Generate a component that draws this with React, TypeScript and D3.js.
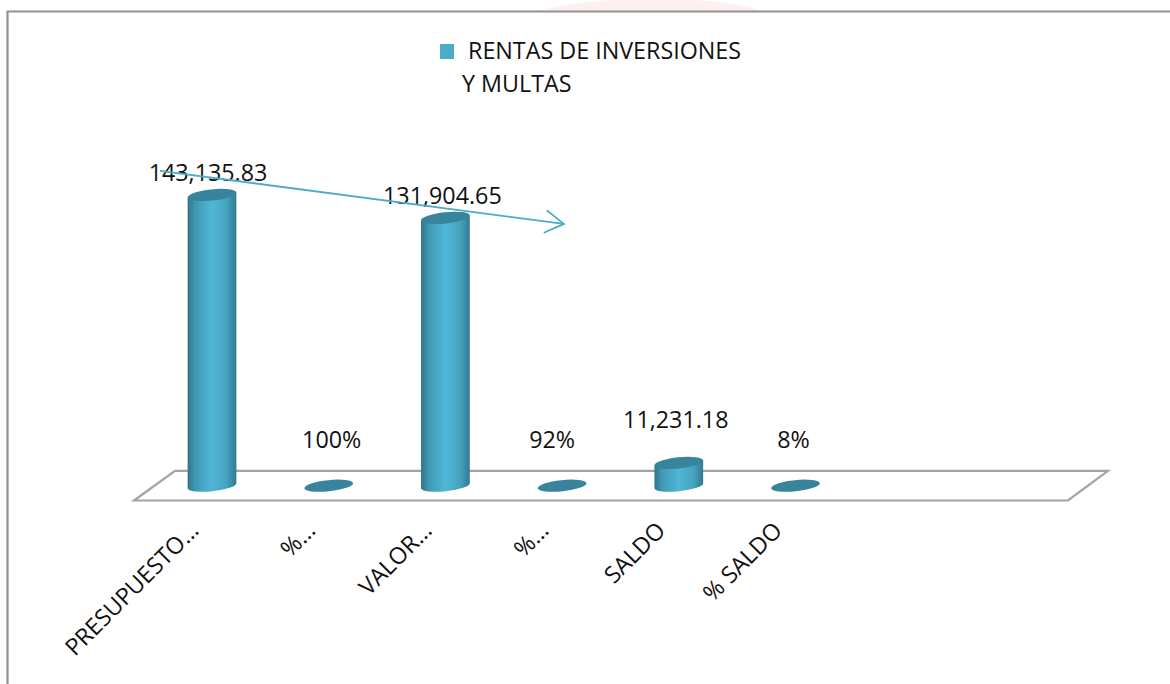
import React from "react";
import * as d3 from "d3";

const categories = ["PRESUPUESTO…", "%…", "VALOR…", "%…", "SALDO", "% SALDO"];
const values = [143135.83, 1, 131904.65, 0.92, 11231.18, 0.08];
const valueLabels = ["143,135.83", "100%", "131,904.65", "92%", "11,231.18", "8%"];
const trendIndex = [-0.446, 3.016];
const trendValue = [155000, 128900];
const legendLines = ["RENTAS DE INVERSIONES", "Y MULTAS"];

const labelDx = [-4, 3, -3, -10, -3, -2];
const W = 1170, H = 684;
const FONT = "'Open Sans', sans-serif";
const FS = 23.3;
const x = d3.scaleLinear().domain([0, 5]).range([212, 795.5]);
const y = d3.scaleLinear().domain([0, 143135.83]).range([485.7, 195]);
const RX = 24.5, RY = 5.6, TILT = -6;

export default function App() {
  const trend = d3.line<number>().x((d) => x(d)).y((_, i) => y(trendValue[i]));
  const ex = x(trendIndex[1]), ey = y(trendValue[1]);
  const sx = x(trendIndex[0]), sy = y(trendValue[0]);
  const ang = Math.atan2(ey - sy, ex - sx);
  const head = [ang + 2.6, ang - 2.6].map((a) => [ex + 22 * Math.cos(a), ey + 22 * Math.sin(a)]);
  const rad = (TILT * Math.PI) / 180;
  const dy = RX * Math.sin(rad);
  const dxx = RX * Math.cos(rad);

  return (
    <svg width={W} height={H} style={{ position: "absolute", left: 0, top: 0, background: "#fff" }}>
      <defs>
        <linearGradient id="cyl" x1="0" x2="1" y1="0" y2="0">
          <stop offset="0" stopColor="#2f7489" />
          <stop offset="0.15" stopColor="#3f98b3" />
          <stop offset="0.5" stopColor="#50b7d6" />
          <stop offset="0.8" stopColor="#45a3bf" />
          <stop offset="1" stopColor="#33798f" />
        </linearGradient>
      </defs>
      <path d="M530,12 Q 590,0 615,0 H 690 Q 720,0 768,12 Z" fill="#fdf0f0" />
      <path d={`M7.5,${H} V11.5 H${W}`} fill="none" stroke="#929292" strokeWidth={2.2} />
      <path d="M134,500.5 L175,470.8 H1108 L1068,500.5 Z" fill="#fff" stroke="#a3a3a3" strokeWidth={2.2} />

      <rect x={440} y={44} width={14} height={15} fill="#4bacc6" />
      <text x={468} y={59} fontFamily={FONT} fontSize={FS} fill="#111">{legendLines[0]}</text>
      <text x={462} y={92} fontFamily={FONT} fontSize={FS} fill="#111">{legendLines[1]}</text>

      {values.map((v, i) => {
        const cx = x(i), y0 = y(0), y1 = y(v);
        const body = `M${cx - dxx},${y0 - dy} A${RX},${RY} ${TILT} 0 0 ${cx + dxx},${y0 + dy} L${cx + dxx},${y1 + dy} L${cx - dxx},${y1 - dy} Z`;
        return (
          <g key={i}>
            {y0 - y1 > 2 && <path d={body} fill="url(#cyl)" />}
            <ellipse cx={cx} cy={y1} rx={RX} ry={RY} transform={`rotate(${TILT} ${cx} ${y1})`} fill="#38849d" />
          </g>
        );
      })}

      {values.map((v, i) => {
        const ly = v < 2 ? 448 : i === 4 ? 428 : y(v) - 14;
        return (
          <text key={i} x={x(i) + labelDx[i]} y={ly} textAnchor="middle" fontFamily={FONT} fontSize={FS} fill="#111">
            {valueLabels[i]}
          </text>
        );
      })}

      <path d={trend(trendIndex) ?? ""} fill="none" stroke="#4bacc6" strokeWidth={1.8} />
      <path d={`M${head[0][0]},${head[0][1]} L${ex},${ey} L${head[1][0]},${head[1][1]}`} fill="none" stroke="#4bacc6" strokeWidth={1.8} />

      {categories.map((c, i) => (
        <text key={i} transform={`translate(${x(i) - 12},${532}) rotate(-45)`} textAnchor="end" fontFamily={FONT} fontSize={FS} fill="#111">
          {c}
        </text>
      ))}
    </svg>
  );
}
